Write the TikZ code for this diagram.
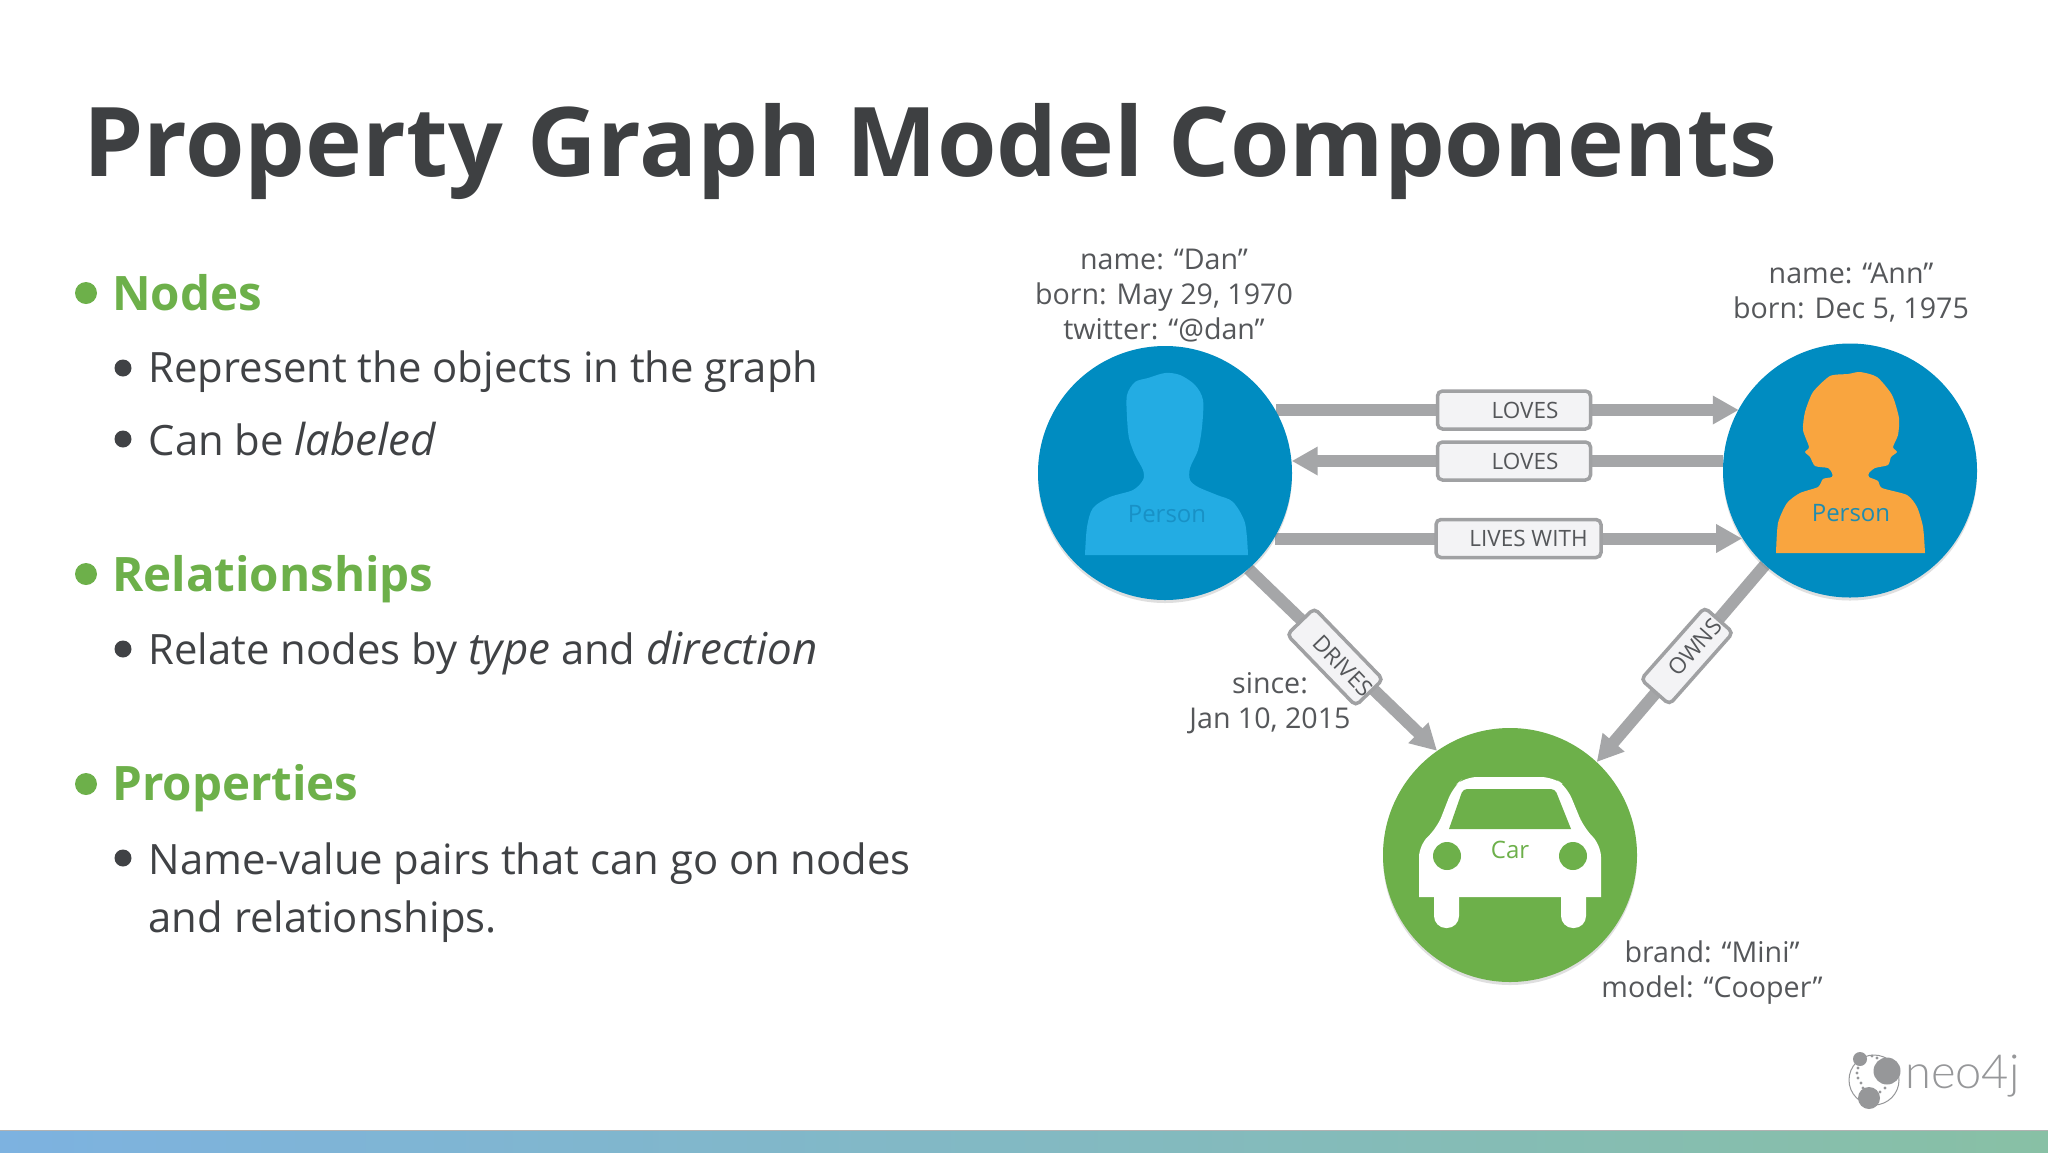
\documentclass[tikz,border=0pt]{standalone}
\usepackage{fontspec}
\setmainfont[ItalicFeatures={Scale=1.05}]{Open Sans}
\newfontfamily\logofont[UprightFont={* Light}]{Lato}
\usetikzlibrary{arrows.meta,positioning,shadows,backgrounds}
\definecolor{titleclr}{RGB}{62,64,66}
\definecolor{bodyclr}{RGB}{64,66,69}
\definecolor{propclr}{RGB}{85,87,90}
\definecolor{headclr}{RGB}{109,176,74}
\definecolor{dkblue}{RGB}{0,140,193}
\definecolor{ltblue}{RGB}{35,172,227}
\definecolor{personclr}{RGB}{24,145,198}
\definecolor{personclrb}{RGB}{32,140,175}
\definecolor{amber}{RGB}{249,165,63}
\definecolor{carclr}{RGB}{109,176,74}
\definecolor{relclr}{RGB}{165,166,168}
\definecolor{boxfill}{RGB}{243,243,245}
\definecolor{relboxclr}{RGB}{160,161,163}
\definecolor{logoclr}{RGB}{150,151,153}
\definecolor{barleft}{RGB}{125,178,224}
\definecolor{barright}{RGB}{136,192,165}
\tikzset{
  %% slide text
  titletxt/.style={anchor=west,inner sep=0pt,text=titleclr,font=\fontsize{96.2}{100}\selectfont\bfseries},
  headtxt/.style={anchor=west,inner sep=0pt,text=headclr,font=\fontsize{47.5}{50}\selectfont\bfseries},
  bodytxt/.style={anchor=west,inner sep=0pt,text=bodyclr,font=\fontsize{41.8}{58}\selectfont,align=left},
  headdot/.style={circle,fill=headclr,minimum size=22pt,inner sep=0pt},
  bodydot/.style={circle,fill=bodyclr,minimum size=17pt,inner sep=0pt},
  %% graph nodes
  gnode/.style={circle,minimum size=254pt,inner sep=0pt,fill=#1,
    drop shadow={shadow xshift=0pt,shadow yshift=-3pt,opacity=.25}},
  proptxt/.style={inner sep=0pt,align=center,text=propclr,font=\fontsize{28.6}{35}\selectfont},
  nodetxt/.style={inner sep=0pt,font=\fontsize{24}{30}\selectfont},
  %% relationships
  rel/.style={line width=12pt,color=relclr},
  relarr/.style={rel,-{Triangle[width=27pt,length=26pt]}},
  relbox/.style={rectangle,rounded corners=5pt,draw=relboxclr,line width=3.5pt,fill=boxfill,
    minimum height=38pt,inner sep=0pt,text=propclr,font=\fontsize{22.5}{26}\selectfont},
  %% logo
  logodot/.style={circle,fill=logoclr,inner sep=0pt,minimum size=#1},
}
\begin{document}
\begin{tikzpicture}[x=1pt,y=-1pt]
  \useasboundingbox (0,0) rectangle (2048,1152);
  \begin{pgfonlayer}{background}
    \fill[white] (0,0) rectangle (2048,1152);
    \shade[left color=barleft,right color=barright] (0,1130) rectangle (2048,1152);
    \draw[line width=1pt,color=black!30] (0,1130) -- (2048,1130);
  \end{pgfonlayer}

  \node[titletxt] (title) at (83,152) {Property Graph Model Components};

  %% bullets
  \node[headdot] (d1) at (86,293) {};
  \node[headtxt] (nodes) at (112,293) {Nodes};
  \node[bodydot] (d11) at (123,368) {};
  \node[bodytxt] (t11) at (148.5,372) {Represent the objects in the graph};
  \node[bodydot] (d12) at (123,439) {};
  \node[bodytxt] (t12) at (148.5,439) {Can be \textit{labeled}};
  \node[headdot] (d2) at (86,574) {};
  \node[headtxt] (rels) at (112,579) {Relationships};
  \node[bodydot] (d21) at (123,649) {};
  \node[bodytxt] (t21) at (148.5,653) {Relate nodes by \textit{type} and \textit{direction}};
  \node[headdot] (d3) at (86,784) {};
  \node[headtxt] (props) at (112,788) {Properties};
  \node[bodydot] (d31) at (123,858) {};
  \node[bodytxt] (t31) at (148.5,893) {Name-value pairs that can go on nodes\\and relationships.};

  %% graph nodes
  \node[gnode=dkblue] (dan) at (1165,473) {};
  \node[gnode=dkblue] (ann) at (1850,470.5) {};
  \node[gnode=carclr] (car) at (1510,855) {};

  %% properties
  \node[proptxt,above=3.5pt of dan.north,xshift=-1pt] (danprops) {name: “Dan”\\born: May 29, 1970\\twitter: “@dan”};
  \node[proptxt,above=20.5pt of ann.north,xshift=1pt] (annprops) {name: “Ann”\\born: Dec 5, 1975};
  \node[proptxt] (since) at (1270,703) {since:\\Jan 10, 2015};
  \node[proptxt] (carprops) at (1712,972.5) {brand: “Mini”\\model: “Cooper”};

  %% male figure
  \fill[ltblue] plot[smooth,tension=.5] coordinates {(1085,555) (1087,527) (1093,508) (1110,497) (1133,490)
    (1143,480) (1143,470) (1135,455) (1129,438) (1127,417) (1127,395) (1135,382) (1148,378) (1165,373)
    (1180,375) (1195,385) (1203,400) (1202,427) (1198,450) (1190,468) (1190,480) (1198,487) (1217,495)
    (1233,502) (1245,523) (1248,555)} -- cycle;
  \node[nodetxt,text=personclr] (p1) at (1167,514) {Person};

  %% female figure
  \fill[amber] plot[smooth,tension=.4] coordinates {(1776,553) (1778,523) (1787,503) (1800,493) (1818,487)
    (1823,479) (1832,477) (1832,473) (1828,468) (1815,466) (1810,457) (1805,452) (1809,447) (1803,430)
    (1805,412) (1813,392) (1830,376) (1848,374) (1860,372) (1877,377) (1892,395) (1899,418) (1898,435)
    (1893,447) (1897,452) (1891,457) (1888,465) (1875,468) (1869,473) (1869,477) (1878,481) (1882,488)
    (1907,495) (1917,507) (1923,527) (1925,553)} -- cycle;
  \node[nodetxt,text=personclrb] (p2) at (1851,513) {Person};

  %% car figure
  \fill[white] (1419,897) [rounded corners=12pt] -- (1419,845) -- (1437,828) -- (1453,787) -- (1465,777)
    -- (1553,777) -- (1567,787) -- (1584,828) -- (1601,845) [sharp corners] -- (1601,897) -- cycle;
  \fill[white,rounded corners=12pt] (1434,885) rectangle (1459,928);
  \fill[white,rounded corners=12pt] (1561,885) rectangle (1586,928);
  \fill[carclr] (1449,829) [rounded corners=4pt] -- (1463,789) -- (1555,789) [sharp corners] -- (1571,829) -- cycle;
  \fill[carclr] (1447,856) circle (14);
  \fill[carclr] (1573,856) circle (14);
  \node[nodetxt,text=carclr] (cartxt) at (1510,850) {Car};

  %% relationship labels
  \node[relbox,minimum width=153pt] (loves1) at (1514,410) {\hspace*{22pt}LOVES};
  \node[relbox,minimum width=153pt] (loves2) at (1514,461) {\hspace*{22pt}LOVES};
  \node[relbox,minimum width=165pt] (lives) at (1518.5,538.5) {\hspace*{20pt}LIVES WITH};
  \node[relbox,minimum width=98pt,rotate=-46] (drives) at (1335,657) {\hspace*{24pt}DRIVES};
  \node[relbox,minimum width=96pt,rotate=48.5] (owns) at (1687,656) {\hspace*{24pt}OWNS};

  %% relationship arrows
  \begin{pgfonlayer}{background}
    \draw[relarr] (loves1 -| dan.29.7) -- (loves1 -| ann.151.6);
    \draw[relarr] (loves2 -| ann.176.2) -- (loves2 -| dan.5);
    \draw[relarr] (lives -| dan.-30.8) -- (lives -| ann.212.1);
    \draw[relarr] (dan.-49.6) -- (car.125.5);
    \draw[relarr] (ann.228.7) -- (car.47.5);
  \end{pgfonlayer}

  %% logo
  \node[circle,draw=logoclr,line width=1pt,minimum size=50pt,inner sep=0pt] (ring) at (1874,1080) {};
  \node[logodot=14pt] (lg1) at (1860,1059) {};
  \node[logodot=27pt] (lg2) at (1887,1071) {};
  \node[logodot=22pt] (lg3) at (1869,1098) {};
  \foreach \px/\py in {1858/1068,1857/1073,1858/1078,1861/1083,1863/1088,1872/1056,1877/1058,1885/1088,1880/1092}
    \fill[logoclr] (\px,\py) circle (1.6);
  \node[anchor=base west,inner sep=0pt,text=logoclr,font=\logofont\fontsize{47}{47}\selectfont] (logo) at (1905,1088) {neo4j};
\end{tikzpicture}
\end{document}
